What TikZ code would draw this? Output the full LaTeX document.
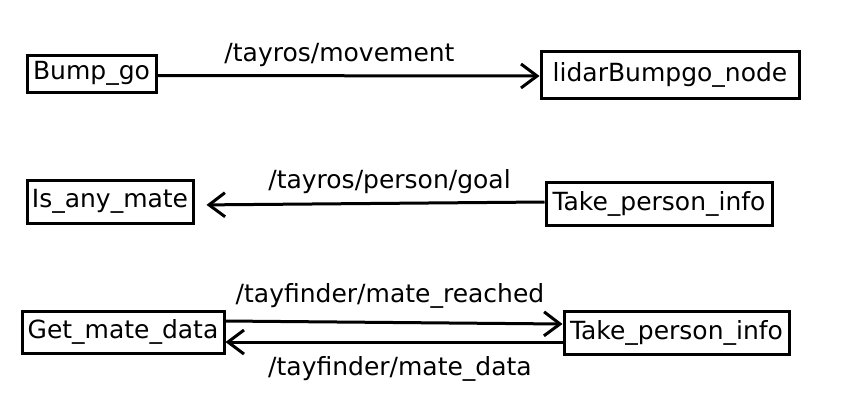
\documentclass[tikz,border=0pt]{standalone}
\usepackage{fontspec}
\setmainfont{DejaVu Sans}
\usetikzlibrary{arrows.meta}
\tikzset{
  topicbox/.style={draw=black,line width=3pt,inner sep=0pt,align=center,font=\fontsize{25}{30}\selectfont},
  arr/.style={-{Straight Barb[length=16pt,width=24pt,line width=3pt]},line width=3pt},
  lbl/.style={font=\fontsize{25}{30}\selectfont,inner sep=0pt},
}
\begin{document}
\begin{tikzpicture}[x=1pt,y=-1pt]
\useasboundingbox (0,0) rectangle (853,416);
% first row
\node[topicbox,minimum width=129pt,minimum height=37pt] (bump) at (91.5,73.5) {Bump\_go};
\node[topicbox,minimum width=258pt,minimum height=47pt] (lidar) at (670,74.5) {lidarBumpgo\_node};
% second row
\node[topicbox,minimum width=166pt,minimum height=43pt] (isany) at (110,201.5) {Is\_any\_mate};
\node[topicbox,minimum width=226pt,minimum height=43pt] (takeA) at (659,203.5) {Take\_person\_info};
% third row
\node[topicbox,minimum width=202pt,minimum height=42pt] (getmate) at (123,332) {Get\_mate\_data};
\node[topicbox,minimum width=225pt,minimum height=43pt] (takeB) at (676.5,332.5) {Take\_person\_info};
% topics
\draw[arr] ([yshift=-2pt]bump.east) -- node[lbl,xshift=-9pt,yshift=21pt]{/tayros/movement} ([yshift=-1.5pt]lidar.west);
\draw[arr,shorten >=12pt] ([yshift=1.5pt]takeA.west) -- node[lbl,xshift=20pt,yshift=22pt]{/tayros/person/goal} ([yshift=-3.5pt]isany.east);
\draw[arr] ([yshift=11pt]getmate.east) -- node[lbl,xshift=-4pt,yshift=27pt]{/tayfinder/mate\_reached} ([yshift=8.5pt]takeB.west);
\draw[arr] ([yshift=-9.5pt]takeB.west) -- node[lbl,xshift=6pt,yshift=-27pt]{/tayfinder/mate\_data} ([yshift=-10pt]getmate.east);
\end{tikzpicture}
\end{document}
